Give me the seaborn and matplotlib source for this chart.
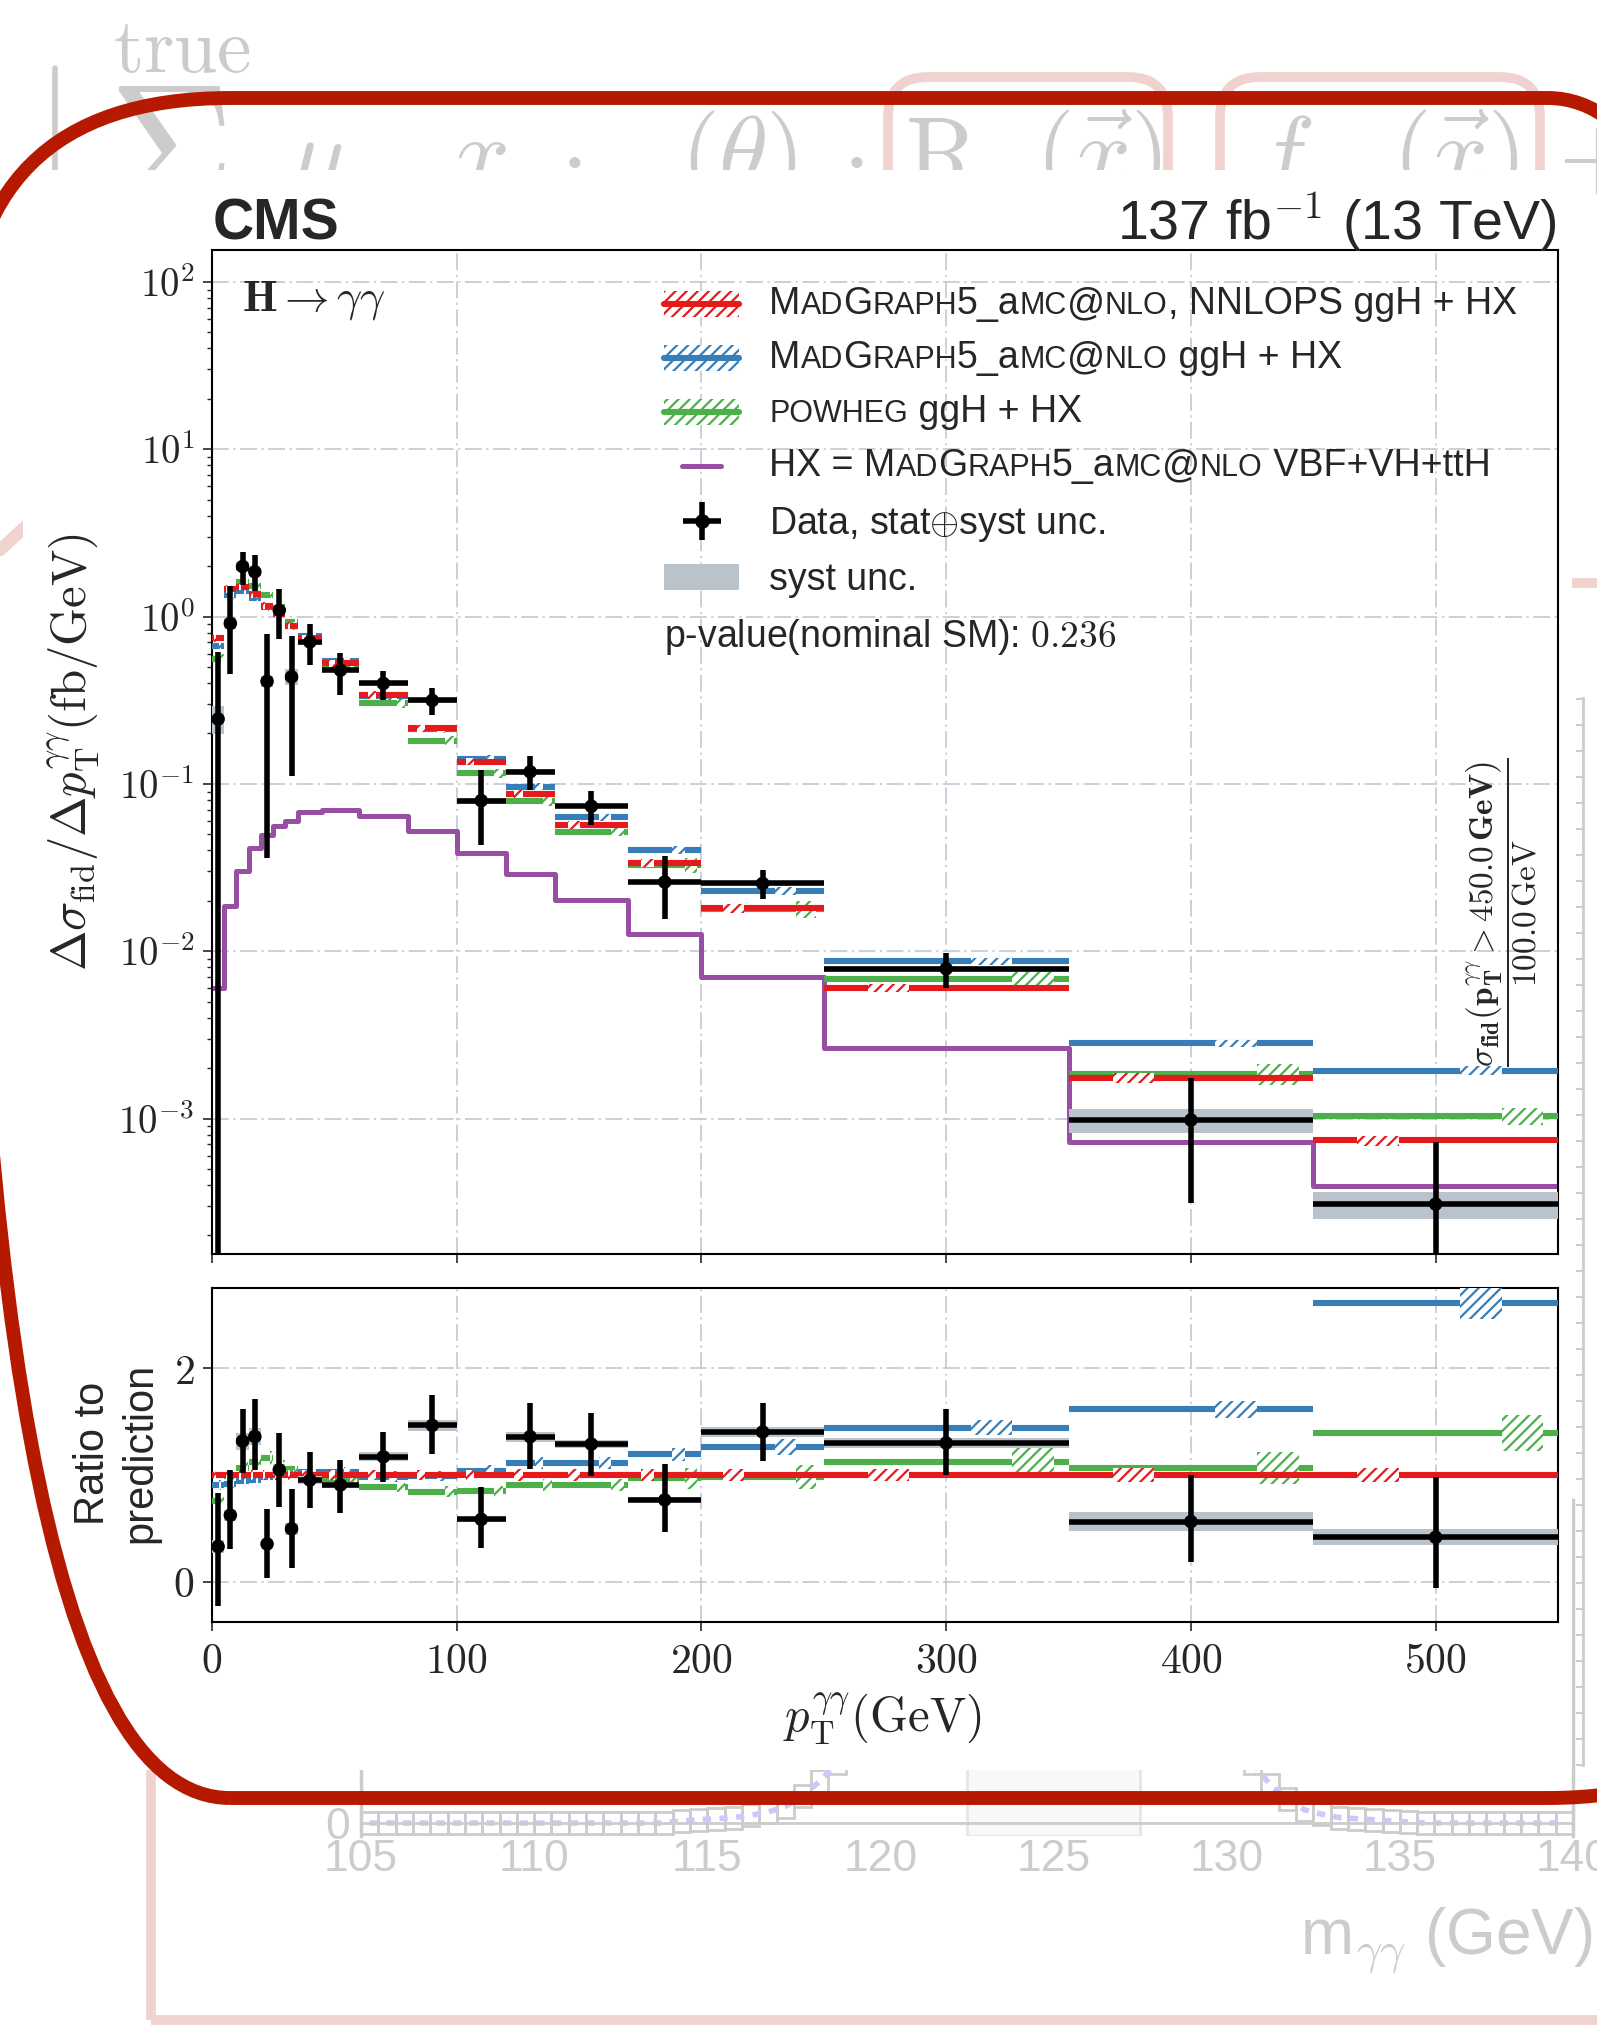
import numpy as np
import matplotlib
matplotlib.use("Agg")
import matplotlib.pyplot as plt
import matplotlib.ticker as mticker
import seaborn as sns
from matplotlib.patches import Patch, FancyBboxPatch, Rectangle
from matplotlib.lines import Line2D
from matplotlib.legend_handler import HandlerLine2D
from matplotlib.offsetbox import TextArea, HPacker, AnnotationBbox

# ---------------- chart values ----------------
bin_edges = [0, 5, 10, 15, 20, 25, 30, 35, 45, 60, 80, 100, 120, 140, 170, 200, 250, 350, 450, 550]
data_xs = [0.244, 0.91, 1.99, 1.85, 0.41, 1.09, 0.436, 0.705, 0.478, 0.398, 0.315, 0.0794, 0.118,
           0.0735, 0.0259, 0.0254, 0.00785, 0.00098, 0.000308]
data_err_up = [0.37, 0.616, 0.453, 0.48, 0.377, 0.361, 0.327, 0.197, 0.124, 0.0775, 0.0604, 0.0408,
               0.0277, 0.0168, 0.0113, 0.00498, 0.00193, 0.00076, 0.00042]
data_err_down = [0.416, 0.456, 0.457, 0.424, 0.374, 0.358, 0.325, 0.192, 0.14, 0.0796, 0.0572, 0.036,
                 0.0266, 0.0169, 0.01026, 0.00498, 0.00181, 0.000666, 0.000354]
syst_rel = [0.19, 0.08, 0.06, 0.06, 0.08, 0.05, 0.11, 0.04, 0.03, 0.035, 0.035, 0.04, 0.035, 0.03,
            0.03, 0.033, 0.038, 0.16, 0.18]
nnlops_xs = [0.74, 1.46, 1.51, 1.36, 1.16, 1.04, 0.88, 0.74, 0.527, 0.34, 0.215, 0.136, 0.0868,
             0.057, 0.0338, 0.0181, 0.00604, 0.00174, 0.00074]
mg5_ratio = [0.906, 0.92, 0.94, 0.95, 0.985, 1.016, 1.0, 1.03, 1.025, 0.985, 0.99, 1.04, 1.11, 1.11,
             1.194, 1.263, 1.444, 1.616, 2.616]
powheg_ratio = [0.756, 0.99, 1.07, 1.12, 1.156, 1.078, 1.06, 1.0, 0.96, 0.89, 0.844, 0.85, 0.906,
                0.906, 0.969, 0.984, 1.125, 1.063, 1.397]
hx_xs = [0.00604, 0.0187, 0.030, 0.0411, 0.0495, 0.056, 0.0603, 0.0678, 0.0695, 0.0643, 0.052,
         0.0384, 0.0291, 0.0202, 0.0127, 0.00704, 0.00263, 0.00072, 0.000393]
nnlops_unc = [0.05] * 12 + [0.055, 0.055, 0.055, 0.06, 0.055, 0.069, 0.069]
mg5_unc = [0.05] * 14 + [0.05, 0.058, 0.048, 0.05, 0.06]
powheg_unc = [0.06] * 14 + [0.10, 0.114, 0.11, 0.14, 0.12]
y_tick_exponents = [-3, -2, -1, 0, 1, 2]
x_ticks = [0, 100, 200, 300, 400, 500]
ratio_ticks = [0, 2]

# faded background m_gg plot values (0.5 GeV bins from 105 to 140)
mgg_ticks = [105, 110, 115, 120, 125, 130, 135, 140]
mgg_counts = ([0.0] * 18 + [0.2, 0.3, 0.4, 0.5, 0.7, 1.0, 1.5, 2.5, 3.8, 5.5, 8, 12] + [20] * 5 +
              [np.nan] * 10 + [20, 20, 20, 20, 12, 8, 5.5, 3.5, 2.2, 1.2, 0.8, 0.5, 0.4, 0.3,
                               0.2, 0.1] + [0.0] * 9)

legend_rows = [
    [("M", 1), ("AD", 0), ("G", 1), ("RAPH", 0), ("5_a", 1), ("MC", 0), ("@", 1), ("NLO", 0),
     (", NNLOPS ggH + HX", 1)],
    [("M", 1), ("AD", 0), ("G", 1), ("RAPH", 0), ("5_a", 1), ("MC", 0), ("@", 1), ("NLO", 0),
     (" ggH + HX", 1)],
    [("POWHEG", 0), (" ggH + HX", 1)],
    [("HX = M", 1), ("AD", 0), ("G", 1), ("RAPH", 0), ("5_a", 1), ("MC", 0), ("@", 1), ("NLO", 0),
     (" VBF+VH+ttH", 1)],
]

# ---------------- style ----------------
sns.set_theme(style="ticks")
plt.rcParams["font.family"] = ["Liberation Sans", "DejaVu Sans"]
plt.rcParams["mathtext.fontset"] = "cm"
plt.rcParams["hatch.linewidth"] = 1.6
plt.rcParams["axes.linewidth"] = 1.5

pal = sns.color_palette("Set1")
RED, BLUE, GREEN, PURPLE = pal[0], pal[1], pal[2], pal[3]
GREY = "#bac2cc"
FADE = "#cccccc"
PINK = "#f0d2cf"
GRIDC = "#bcc4ce"
SANS = ["Liberation Sans", "DejaVu Sans"]

W, H = 1597, 2026
fig = plt.figure(figsize=(W / 100, H / 100), dpi=100)


def fx(x):
    return x / W


def fy(y):
    return 1 - y / H


# ---------------- faded background ----------------
fig.text(fx(113), fy(15), r"$\mathrm{true}$", fontsize=56, color=FADE, ha="left", va="top", zorder=-2)
fig.text(fx(108), fy(78), r"$\Sigma$", fontsize=125, color=FADE, ha="left", va="top", zorder=-2)
fig.add_artist(Line2D([fx(55), fx(55)], [fy(68), fy(175)], color=FADE, lw=4, zorder=-2))
for s, xp in [(r"$\mu$", 288), (r"$x$", 452), (r"$\cdot$", 560), (r"$(\theta)$", 680),
              (r"$\cdot$", 842), (r"$\mathrm{R}$", 905), (r"$(\vec{x})$", 1035), (r"$f$", 1255),
              (r"$(\vec{x})$", 1392), (r"$+$", 1558)]:
    fig.text(fx(xp), fy(186), s, fontsize=72, color=FADE, ha="left", va="baseline", zorder=-2)
for x0, w in [(8.88, 2.80), (12.20, 3.20)]:
    fig.add_artist(FancyBboxPatch((x0, 14.0), w, 5.49, boxstyle="round,pad=0,rounding_size=0.4",
                                  transform=fig.dpi_scale_trans, fill=False, edgecolor=PINK, lw=7,
                                  zorder=-2))
fig.add_artist(Rectangle((1.51, 0.06), 16.0, (H - 583) / 100 - 0.06, transform=fig.dpi_scale_trans,
                         fill=False, edgecolor=PINK, lw=7, zorder=-2))
fig.add_artist(Line2D([fx(0), fx(26)], [fy(550), fy(526)], color=PINK, lw=9, zorder=-2))

# faded m_gg plot
ax_bg = fig.add_axes([fx(361), fy(1836), fx(1573) - fx(361), fy(1500) - fy(1836)])
ax_bg.set_zorder(-3)
ax_bg.patch.set_alpha(0)
cnt = np.array(mgg_counts, float)
mgg_centers = 105.25 + 0.5 * np.arange(len(cnt))
ax_bg.bar(mgg_centers, 2.0, bottom=cnt - 1.0, width=0.5, fill=False, edgecolor=FADE, lw=2)
ax_bg.axvspan(122.5, 127.5, facecolor="#f8f8f8", edgecolor="#e6e6e6", lw=2)
ax_bg.plot(mgg_centers, np.nan_to_num(cnt, nan=25.0), color="#c9c9ff", lw=4, ls=(0, (1.5, 1.5)))
ax_bg.axhline(0, color=FADE, lw=2)
ax_bg.set_xlim(105, 140)
ax_bg.set_ylim(-1.18, 29.4)
ax_bg.set_xticks(mgg_ticks)
ax_bg.set_yticks([0])
ax_bg.tick_params(colors=FADE, labelcolor=FADE, labelsize=32, length=0, pad=2)
ax_bg.tick_params(axis="y", pad=8)
for s in ["top", "bottom"]:
    ax_bg.spines[s].set_visible(False)
for s in ["left", "right"]:
    ax_bg.spines[s].set_color(FADE)
    ax_bg.spines[s].set_linewidth(2.5)
fig.text(fx(1592), fy(1955), r"m$_{\gamma\gamma}$ (GeV)", fontsize=46, color=FADE, ha="right",
         va="baseline", zorder=-2)

# faded right axis
ax_edge = fig.add_axes([fx(1560), fy(1765), fx(1583) - fx(1560), fy(698) - fy(1765)])
ax_edge.set_zorder(-3)
ax_edge.patch.set_alpha(0)
ax_edge.set_ylim(0, 1067)
ax_edge.set_xticks([])
ax_edge.yaxis.set_major_locator(mticker.MultipleLocator(26))
ax_edge.yaxis.tick_right()
ax_edge.tick_params(axis="y", direction="in", length=5, width=1.5, color=FADE, labelright=False)
for s in ["top", "bottom", "left"]:
    ax_edge.spines[s].set_visible(False)
ax_edge.spines["right"].set_color(FADE)
ax_edge.spines["right"].set_linewidth(2)

# white panel of the CMS figure
fig.add_artist(Rectangle((fx(23), fy(1770)), fx(1572) - fx(23), fy(170) - fy(1770),
                         transform=fig.transFigure, facecolor="white", edgecolor="none", zorder=-1))

# ---------------- main plot ----------------
edges = np.array(bin_edges, float)
left, right = edges[:-1], edges[1:]
width = right - left
centers = 0.5 * (left + right)
data = np.array(data_xs)
up = np.array(data_err_up)
dn = np.array(data_err_down)
syst = np.array(syst_rel)
red = np.array(nnlops_xs)
blue = red * np.array(mg5_ratio)
green = red * np.array(powheg_ratio)
hx = np.array(hx_xs)

ax = fig.add_axes([fx(212), fy(1254), fx(1558) - fx(212), fy(250) - fy(1254)])
axr = fig.add_axes([fx(212), fy(1622), fx(1558) - fx(212), fy(1288) - fy(1622)])


def draw_pred(a, vals, unc, color, frac, z):
    vals = np.asarray(vals, float)
    unc = np.asarray(unc, float)
    a.hlines(vals, left, right, colors=[color], lw=4.4, zorder=z)
    a.bar(left + frac * width, 2 * vals * unc, width=0.17 * width, bottom=vals * (1 - unc),
          align="edge", facecolor="white", edgecolor=color, hatch="///", lw=0, zorder=z + 0.5)


def draw_data(a, vals, eup, edn, sys_abs):
    a.bar(left, 2 * sys_abs, bottom=vals - sys_abs, width=width, align="edge", color=GREY, lw=0,
          zorder=7)
    a.errorbar(centers, vals, xerr=width / 2, yerr=[edn, eup], fmt="none", ecolor="black",
               elinewidth=4.0, capsize=0, zorder=8)
    sns.scatterplot(x=centers, y=vals, ax=a, color="black", s=95, edgecolor="none", zorder=9,
                    legend=False)


# upper panel
ax.set_yscale("log")
sns.lineplot(x=edges, y=np.append(hx, hx[-1]), ax=ax, color=PURPLE, lw=3.6, drawstyle="steps-post",
             estimator=None, zorder=2, legend=False)
draw_pred(ax, green, powheg_unc, GREEN, 0.77, 3)
draw_pred(ax, blue, mg5_unc, BLUE, 0.60, 4)
draw_pred(ax, red, nnlops_unc, RED, 0.18, 5)
draw_data(ax, data, up, dn, data * syst)

ax.set_xlim(0, 550)
ax.set_ylim(1.55e-4, 155)
ax.yaxis.set_major_locator(mticker.FixedLocator([10.0 ** e for e in y_tick_exponents]))
ax.yaxis.set_major_formatter(mticker.FuncFormatter(lambda v, p: r"$10^{%d}$" % round(np.log10(v))))
ax.yaxis.set_minor_locator(mticker.LogLocator(base=10, subs=np.arange(2, 10), numticks=50))
ax.yaxis.set_minor_formatter(mticker.NullFormatter())
ax.set_xticks(x_ticks)
ax.tick_params(axis="x", labelbottom=False, direction="out", length=6.5, width=1.2)
ax.tick_params(axis="y", which="major", direction="out", length=6.5, width=1.2, labelsize=28, pad=6)
ax.tick_params(axis="y", which="minor", direction="out", length=3.6, width=1.0)
ax.set_axisbelow(True)
grid_kw = dict(color=GRIDC, lw=1.1, ls=(0, (11, 3, 1.4, 3)))
ax.grid(True, which="major", **grid_kw)
ax.set_ylabel(r"$\Delta\sigma_{\mathrm{fid}}/\Delta p_{\mathrm{T}}^{\gamma\gamma}(\mathrm{fb}/\mathrm{GeV})$",
              fontsize=35)
ax.yaxis.set_label_coords(-0.0825, 0.5)
for s in ax.spines.values():
    s.set_color("black")

ax.text(0.0223, 0.950, r"$\mathbf{H}\rightarrow\gamma\gamma$", transform=ax.transAxes, fontsize=32,
        ha="left", va="center")
ax.text(0.336, 0.6145, r"p-value(nominal SM): $\mathbf{0.236}$", transform=ax.transAxes,
        fontsize=27, ha="left", va="center")
ax.text(0.958, 0.3406,
        r"$\dfrac{\mathbf{\sigma_{fid}}\left(\mathbf{p_{T}^{\gamma\gamma}>450.0\,GeV}\right)}{\mathrm{100.0\,GeV}}$",
        transform=ax.transAxes, fontsize=24, rotation=90, ha="center", va="center")

# legend
h_red = (Patch(facecolor="white", edgecolor=RED, hatch="///", lw=0), Line2D([], [], color=RED, lw=4.4))
h_blue = (Patch(facecolor="white", edgecolor=BLUE, hatch="///", lw=0), Line2D([], [], color=BLUE, lw=4.4))
h_green = (Patch(facecolor="white", edgecolor=GREEN, hatch="///", lw=0), Line2D([], [], color=GREEN, lw=4.4))
h_hx = Line2D([], [], color=PURPLE, lw=3.6)
h_data = ax.errorbar([np.nan], [np.nan], xerr=[1.0], yerr=[1.0], fmt="o", color="black", ms=9.5,
                     elinewidth=4.0, capsize=0)
h_syst = Patch(facecolor=GREY, edgecolor="none")


class ShortLine(HandlerLine2D):
    def get_xdata(self, legend, xdescent, ydescent, width, height, fontsize):
        xd = np.array([-xdescent + 0.24 * width, -xdescent + 0.76 * width])
        return xd, xd


leg = ax.legend([h_red, h_blue, h_green, h_hx, h_data, h_syst],
                [" ", " ", " ", " ", r"Data, stat$\oplus$syst unc.", "syst unc."],
                loc="upper left", bbox_to_anchor=(0.336, 0.961), frameon=False, fontsize=27,
                handlelength=2.0, handletextpad=0.8, labelspacing=0.48, borderpad=0,
                borderaxespad=0, handler_map={h_hx: ShortLine()})

# ratio panel
draw_pred(axr, green / red, powheg_unc, GREEN, 0.77, 3)
draw_pred(axr, blue / red, mg5_unc, BLUE, 0.60, 4)
draw_pred(axr, red / red, nnlops_unc, RED, 0.18, 5)
draw_data(axr, data / red, up / red, dn / red, data * syst / red)
axr.set_xlim(0, 550)
axr.set_ylim(-0.378, 2.753)
axr.set_xticks(x_ticks)
axr.set_yticks(ratio_ticks)
axr.xaxis.set_major_formatter(mticker.FuncFormatter(lambda v, p: r"$%d$" % v))
axr.yaxis.set_major_formatter(mticker.FuncFormatter(lambda v, p: r"$%d$" % v))
axr.tick_params(axis="both", direction="out", length=6.5, width=1.2, labelsize=30)
axr.tick_params(axis="x", pad=8)
axr.tick_params(axis="y", pad=6)
axr.set_axisbelow(True)
axr.grid(True, which="major", **grid_kw)
axr.set_xlabel(r"$p_{\mathrm{T}}^{\gamma\gamma}(\mathrm{GeV})$", fontsize=35)
axr.xaxis.set_label_coords(0.498, -0.205)
axr.set_ylabel("Ratio to\nprediction", fontsize=30, linespacing=1.25)
axr.yaxis.set_label_coords(-0.038, 0.506)
for s in axr.spines.values():
    s.set_color("black")

# header
fig.text(fx(213), fy(240), "CMS", fontsize=41, fontweight="bold", ha="left", va="baseline")
fig.text(fx(1557), fy(240), r"137 fb$^{-1}$ (13 TeV)", fontsize=40, ha="right", va="baseline")

# dark red frame on top
fig.add_artist(FancyBboxPatch((-0.36, 2.28), 18.5, 17.0, boxstyle="round,pad=0,rounding_size=2.66",
                              transform=fig.dpi_scale_trans, fill=False, edgecolor="#b51a00",
                              lw=10, zorder=20))

# small-caps legend labels
fig.canvas.draw()
renderer = fig.canvas.get_renderer()
for t, row in zip(leg.get_texts()[:4], legend_rows):
    bb = t.get_window_extent(renderer)
    kids = [TextArea(s, textprops=dict(fontsize=27 if big else 22, family=SANS)) for s, big in row]
    box = HPacker(children=kids, align="baseline", pad=0, sep=0)
    ab = AnnotationBbox(box, (bb.x0, 0.5 * (bb.y0 + bb.y1)), xycoords="figure pixels",
                        box_alignment=(0, 0.42), frameon=False, pad=0)
    fig.add_artist(ab)

fig.savefig("out.png", dpi=100)
